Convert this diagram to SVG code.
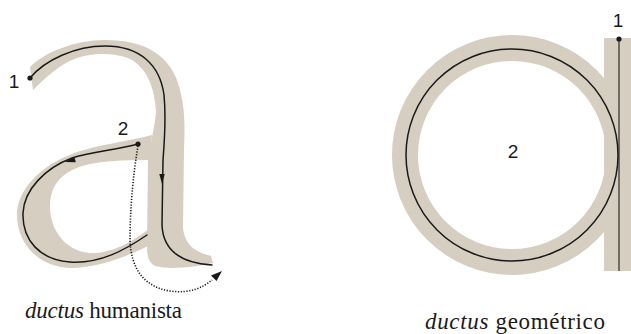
<svg xmlns="http://www.w3.org/2000/svg" width="631" height="334" viewBox="0 0 631 334">
<style>
.glyph{fill:#d6cfc1;stroke:none}
.ring{fill:none;stroke:#d6cfc1;stroke-width:26}
.line{fill:none;stroke:#1a1a1a;stroke-width:1.5;stroke-linecap:round}
.thin{fill:none;stroke:#1a1a1a;stroke-width:1.1}
.dotted{fill:none;stroke:#1a1a1a;stroke-width:1.6;stroke-dasharray:1.2 1.6}
.head{fill:#1a1a1a}
.num{font-family:"Liberation Sans",Arial,sans-serif;font-size:19px;fill:#1a1a1a;text-anchor:middle}
.cap{font-family:"Liberation Serif","Times New Roman",serif;font-size:23px;fill:#1a1a1a}
</style>
<rect width="631" height="334" fill="#ffffff"/>
<g id="humanist-a">
<path class="glyph" d="M30,67 C45,52 75,40 105,40 C145,40 172,55 180,90 C185,110 185,125 184,150 L183,228 C185,245 195,252 211,256 L213,263 C195,267 170,270 155,266 C148,262 147,255 147,245 L148,160 C151,140 155,125 156,112 C155,90 148,70 132,60 C118,53 95,52 77,58 C60,64 45,78 33,90 Z"/>
<path class="glyph" d="M152,135 C130,141 95,145 72,154 C40,166 17,190 17,215 C17,245 40,267 70,268 C100,268 130,255 150,245 L150,228 C135,240 115,252 95,253 C70,254 52,235 50,210 C49,185 62,170 90,164 C110,160 135,160 150,160 Z"/>
</g>
<g id="geometric-a">
<rect class="glyph" x="604" y="38" width="30" height="233"/>
<circle class="ring" cx="512" cy="155" r="107"/>
</g>
<g id="connectors">
<path class="line" d="M30,78 C45,60 75,46 105,46 C140,46 160,65 164,95 C166,115 165,135 163,160 L162,225 C163,250 180,263 212,265"/>
<polygon class="head" points="162,184 159.3,174 164.7,174"/>
<path class="line" d="M138,144 C115,150 90,152 72,158 C45,168 24,190 23,213 C22,240 40,260 70,262 C100,264 125,250 147,235"/>
<polygon class="head" points="65,162 75.8,162.2 74.4,156.8"/>
<path class="dotted" d="M138,146 C133,175 130,210 130,240 C131,270 145,287 170,291 C190,294 204,287 212,280"/>
<polygon class="head" points="222,271 216.5,281 211,275.5"/>
<circle class="line" cx="512" cy="155" r="106"/>
<line class="thin" x1="619" y1="39" x2="619" y2="271"/>
</g>
<g id="points">
<circle class="head" cx="30" cy="78" r="2.6"/>
<circle class="head" cx="138" cy="144" r="2.6"/>
<circle class="head" cx="619" cy="39" r="2.6"/>
</g>
<g id="labels">
<text class="num" x="14" y="88">1</text>
<text class="num" x="123" y="135">2</text>
<text class="num" x="618" y="27">1</text>
<text class="num" x="513" y="158">2</text>
<text class="cap" x="25" y="318" textLength="157"><tspan font-style="italic">ductus</tspan> humanista</text>
<text class="cap" x="425" y="329" textLength="180"><tspan font-style="italic">ductus</tspan> geométrico</text>
</g>
</svg>
